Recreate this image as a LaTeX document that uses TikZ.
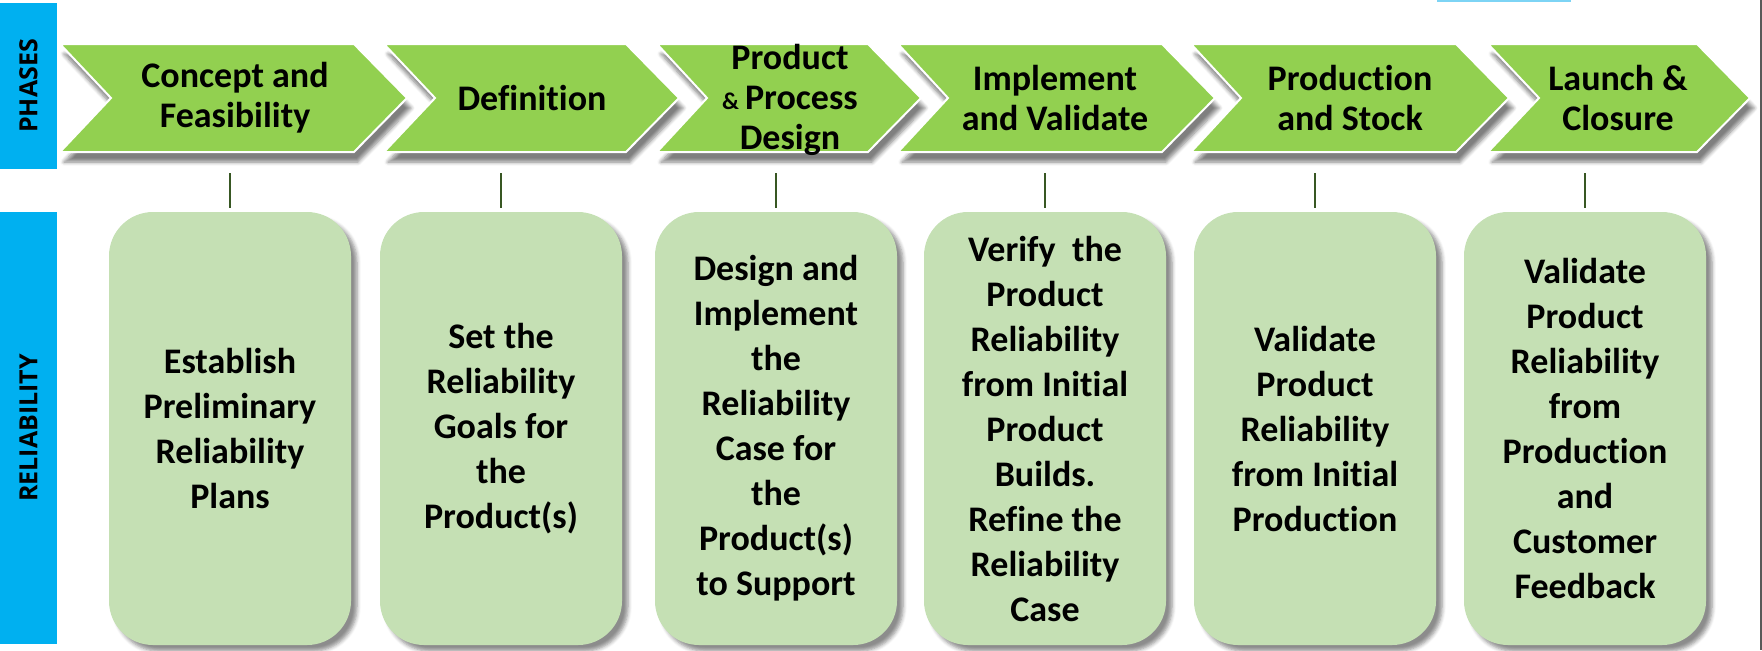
\documentclass[tikz,border=0pt]{standalone}
\usepackage{fontspec}
\setmainfont{Carlito}[Ligatures={TeX,NoCommon,NoContextual}]
\newfontfamily\sidefont{Open Sans}
\usetikzlibrary{shadows.blur}
\definecolor{phasegreen}{RGB}{146,208,80}
\definecolor{boxgreen}{RGB}{197,224,180}
\definecolor{barblue}{RGB}{0,176,240}
\definecolor{linkgreen}{RGB}{56,87,35}
\definecolor{topblue}{RGB}{125,212,245}

\tikzset{
  phase/.style={fill=phasegreen, draw=white, line width=1pt,
    blur shadow={shadow xshift=2pt, shadow yshift=-5pt, shadow opacity=50, shadow blur steps=6}},
  phasetext/.style={align=center, font=\bfseries\fontsize{18}{20}\selectfont},
  relbox/.style={fill=boxgreen, rounded corners=22pt, minimum width=121pt, minimum height=216.5pt,
    align=center, font=\bfseries\fontsize{18}{22.5}\selectfont,
    blur shadow={shadow xshift=3pt, shadow yshift=-3pt, shadow opacity=45, shadow blur steps=5}},
  sidebar/.style={fill=barblue, rotate=90, inner sep=0pt, font=\sidefont\bfseries\fontsize{12.5}{15}\selectfont},
  link/.style={draw=linkgreen, line width=1pt}
}

\begin{document}
\begin{tikzpicture}[x=0.5pt, y=-0.5pt]
			\useasboundingbox (0,0) rectangle (1762,650);
			%Config
			\fill[topblue] (1437,0) rectangle (1571,2);
			\draw[black!65, line width=0.6pt] (1761,0) -- (1761,650);
			\node[sidebar, minimum width=83pt, minimum height=28.5pt] (phases) at (28.5,86) {PHASES};
			\node[sidebar, minimum width=216pt, minimum height=28.5pt] (reliab) at (28.5,428) {RELIABILITY};

			%Fases (chevrons)
			\path[phase] (60,44) -- (354,44) -- (407,98) -- (354,152) -- (60,152) -- (111,98) -- cycle;
			\path[phase] (384,44) -- (626,44) -- (679,98) -- (626,152) -- (384,152) -- (435,98) -- cycle;
			\path[phase] (657,44) -- (868,44) -- (921,98) -- (868,152) -- (657,152) -- (707,98) -- cycle;
			\path[phase] (898,44) -- (1162,44) -- (1215,98) -- (1162,152) -- (898,152) -- (948,98) -- cycle;
			\path[phase] (1191,44) -- (1456,44) -- (1509,98) -- (1456,152) -- (1191,152) -- (1241,98) -- cycle;
			\path[phase] (1488,44) -- (1697,44) -- (1750,98) -- (1697,152) -- (1488,152) -- (1539,98) -- cycle;

			\node[phasetext] (ph1) at (235,98) {Concept and\\Feasibility};
			\node[phasetext] (ph2) at (532,98) {Definition};
			\node[phasetext] (ph3) at (790,100) {Product\\{\fontsize{12}{12}\selectfont\&}\,Process\\Design};
			\node[phasetext] (ph4) at (1055,98) {Implement\\and Validate};
			\node[phasetext] (ph5) at (1350,98) {Production\\and Stock};
			\node[phasetext] (ph6) at (1618,98) {Launch \&\\Closure};

			%Caixas de confiabilidade
			\node[relbox] (b1) at (230,428.5) {Establish\\Preliminary\\Reliability\\Plans};
			\node[relbox] (b2) at (501,428.5) {Set the\\Reliability\\Goals for\\the\\Product(s)};
			\node[relbox] (b3) at (776,428.5) {Design and\\Implement\\the\\Reliability\\Case for\\the\\Product(s)\\to Support};
			\node[relbox] (b4) at (1045,428.5) {Verify~ the\\Product\\Reliability\\from Initial\\Product\\Builds.\\Refine the\\Reliability\\Case};
			\node[relbox] (b5) at (1315,428.5) {Validate\\Product\\Reliability\\from Initial\\Production};
			\node[relbox] (b6) at (1585,428.5) {Validate\\Product\\Reliability\\from\\Production\\and\\Customer\\Feedback};

			%Ligacoes
			\draw[link] (b1.north) ++(0,-4) -- ++(0,-35);
			\draw[link] (b2.north) ++(0,-4) -- ++(0,-35);
			\draw[link] (b3.north) ++(0,-4) -- ++(0,-35);
			\draw[link] (b4.north) ++(0,-4) -- ++(0,-35);
			\draw[link] (b5.north) ++(0,-4) -- ++(0,-35);
			\draw[link] (b6.north) ++(0,-4) -- ++(0,-35);
\end{tikzpicture}
\end{document}
